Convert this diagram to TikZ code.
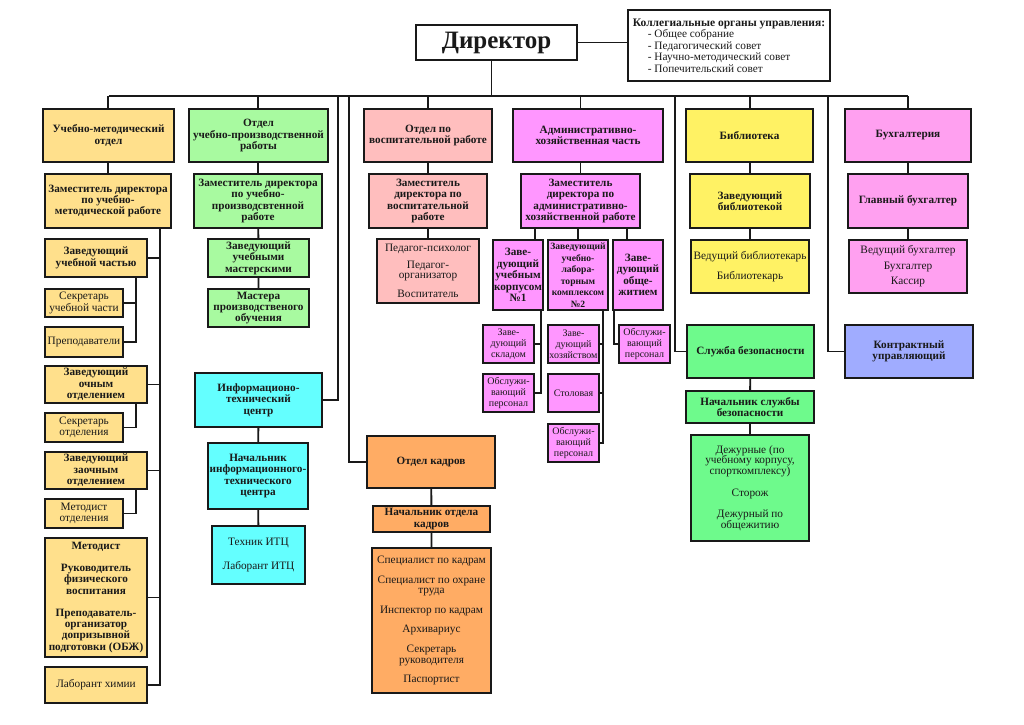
\documentclass[tikz,border=0pt]{standalone}
\usepackage{fontspec}
\setmainfont{Liberation Serif}

\definecolor{umoC}{RGB}{255,224,140}
\definecolor{uprC}{RGB}{168,250,160}
\definecolor{vospC}{RGB}{255,190,190}
\definecolor{ahchC}{RGB}{255,150,255}
\definecolor{bibC}{RGB}{255,242,100}
\definecolor{bukhC}{RGB}{255,160,240}
\definecolor{itcC}{RGB}{100,255,255}
\definecolor{kadrC}{RGB}{255,172,100}
\definecolor{sbC}{RGB}{110,250,140}
\definecolor{kuC}{RGB}{160,172,255}

\tikzset{
	box/.style={draw=black!90, line width=1.9pt, inner sep=0pt, align=center, text=black!90,
		font=\bfseries\fontsize{11.2}{11.4}\selectfont},
	plain/.style={font=\fontsize{11.3}{10.6}\selectfont},
	small/.style={font=\fontsize{10}{11}\selectfont},
	link/.style={draw=black!90, line width=1.9pt}
}

% box from corner (x1,y1) to corner (x2,y2)
\newcommand{\orgbox}[7][]{%
	\node[box,#1,minimum width={#4-#2},minimum height={#5-#3}] (#6) at ({(#2+#4)/2},{(#3+#5)/2}) {#7};}

\begin{document}
\begin{tikzpicture}[x=1pt,y=-1pt]
		\useasboundingbox[fill=white] (0,0) rectangle (1024,724);
		% top
		\orgbox[font=\bfseries\fontsize{25}{27}\selectfont]{416}{25}{577}{60}{dir}{Директор}
		\orgbox[align=left, font=\fontsize{11.3}{11.4}\selectfont]{628}{10}{830}{81}{coll}{\textbf{\fontsize{11.5}{11.4}\selectfont Коллегиальные органы управления:}\\
			\hspace*{15pt}- Общее собрание\\
			\hspace*{15pt}- Педагогический совет\\
			\hspace*{15pt}- Научно-методический совет\\
			\hspace*{15pt}- Попечительский совет}
		\coordinate (bus) at (0,96);
		% first row
		\orgbox[fill=umoC]{43}{109}{174}{162}{umo}{Учебно-методический\\отдел}
		\orgbox[fill=uprC]{189}{109}{328}{162}{upr}{Отдел\\учебно-производственной\\работы}
		\orgbox[fill=vospC]{364}{109}{492}{162}{vosp}{Отдел по\\воспитательной работе}
		\orgbox[fill=ahchC]{513}{109}{663}{162}{ahch}{Административно-\\хозяйственная часть}
		\orgbox[fill=bibC]{686}{109}{813}{162}{bib}{Библиотека}
		\orgbox[fill=bukhC]{845}{109}{971}{162}{bukh}{Бухгалтерия}
		% second row
		\orgbox[fill=umoC]{45}{174}{171}{228}{umozam}{Заместитель директора\\по учебно-\\методической работе}
		\orgbox[fill=uprC]{194}{174}{322}{228}{uprzam}{Заместитель директора\\по учебно-\\производсвтенной\\работе}
		\orgbox[fill=vospC]{369}{174}{487}{228}{vzam}{Заместитель\\директора по\\воспитательной\\работе}
		\orgbox[fill=ahchC]{521}{174}{640}{228}{azam}{Заместитель\\директора по\\административно-\\хозяйственной работе}
		\orgbox[fill=bibC]{690}{174}{810}{228}{zavbib}{Заведующий\\библиотекой}
		\orgbox[fill=bukhC]{848}{174}{968}{228}{glav}{Главный бухгалтер}
		% учебно-методический отдел
		\orgbox[fill=umoC]{45}{239}{147}{277}{zavuch}{Заведующий\\учебной частью}
		\orgbox[fill=umoC,plain]{45}{289}{123}{317}{sekr1}{Секретарь\\[1pt]учебной части}
		\orgbox[fill=umoC,plain]{45}{327}{123}{357}{prep}{Преподаватели}
		\orgbox[fill=umoC]{45}{366}{147}{403}{zavoch}{Заведующий\\очным\\отделением}
		\orgbox[fill=umoC,plain]{45}{413}{123}{442}{sekr2}{Секретарь\\[1pt]отделения}
		\orgbox[fill=umoC]{45}{452}{147}{489}{zavzaoch}{Заведующий\\заочным\\отделением}
		\orgbox[fill=umoC,plain]{45}{499}{123}{528}{metotd}{Методист\\[1pt]отделения}
		\orgbox[fill=umoC]{45}{538}{147}{657}{metod}{Методист\\[10.5pt]Руководитель\\физического\\воспитания\\[10.5pt]Преподаватель-\\организатор\\допризывной\\подготовки (ОБЖ)}
		\orgbox[fill=umoC,plain]{45}{667}{147}{703}{labkh}{Лаборант химии}
		% отдел учебно-производственной работы
		\orgbox[fill=uprC]{208}{239}{309}{277}{zavmast}{Заведующий\\учебными\\мастерскими}
		\orgbox[fill=uprC]{208}{289}{309}{327}{mastera}{Мастера\\производственого\\обучения}
		\orgbox[fill=itcC]{195}{373}{322}{427}{itc}{Информационо-\\технический\\центр}
		\orgbox[fill=itcC]{208}{443}{308}{509}{nachitc}{Начальник\\информационного-\\технического\\центра}
		\orgbox[fill=itcC,plain]{212}{526}{305}{584}{tekh}{Техник ИТЦ\\[13pt]Лаборант ИТЦ}
		% отдел по воспитательной работе, кадры
		\orgbox[fill=vospC,plain]{377}{239}{479}{303}{ped}{Педагог-психолог\\[6pt]Педагог-\\организатор\\[8pt]Воспитатель}
		\orgbox[fill=kadrC]{367}{436}{495}{488}{kadry}{Отдел кадров}
		\orgbox[fill=kadrC]{373}{506}{490}{532}{nachk}{Начальник отдела\\кадров}
		\orgbox[fill=kadrC,plain]{372}{548}{491}{693}{spec}{Специалист по кадрам\\[9pt]Специалист по охране\\труда\\[9pt]Инспектор по кадрам\\[9pt]Архивариус\\[9pt]Секретарь\\руководителя\\[9pt]Паспортист}
		% административно-хозяйственная часть
		\orgbox[fill=ahchC]{493}{240}{543}{310}{korp}{Заве-\\дующий\\учебным\\корпусом\\№1}
		\orgbox[fill=ahchC,font=\bfseries\fontsize{9.6}{11.5}\selectfont]{548}{240}{608}{310}{komp}{Заведующий\\учебно-\\лабора-\\торным\\комплексом\\№2}
		\orgbox[fill=ahchC]{613}{240}{663}{310}{obsh}{Заве-\\дующий\\обще-\\житием}
		\orgbox[fill=ahchC,small]{483}{325}{534}{363}{sklad}{Заве-\\дующий\\складом}
		\orgbox[fill=ahchC,small]{483}{374}{534}{412}{obsl1}{Обслужи-\\вающий\\персонал}
		\orgbox[fill=ahchC,small]{548}{325}{599}{363}{hoz}{Заве-\\дующий\\хозяйством}
		\orgbox[fill=ahchC,small]{548}{374}{599}{412}{stol}{Столовая}
		\orgbox[fill=ahchC,small]{548}{424}{599}{462}{obsl2}{Обслужи-\\вающий\\персонал}
		\orgbox[fill=ahchC,small]{619}{325}{670}{363}{obsl3}{Обслужи-\\вающий\\персонал}
		% библиотека, безопасность
		\orgbox[fill=bibC,plain]{691}{240}{809}{293}{vedbib}{Ведущий библиотекарь\\[9pt]Библиотекарь}
		\orgbox[fill=sbC]{687}{325}{814}{378}{sluzh}{Служба безопасности}
		\orgbox[fill=sbC]{686}{391}{814}{423}{nachsl}{Начальник службы\\безопасности}
		\orgbox[fill=sbC,plain]{691}{435}{809}{541}{dezh}{Дежурные (по\\учебному корпусу,\\спорткомплексу)\\[11pt]Сторож\\[11pt]Дежурный по\\общежитию}
		% бухгалтерия
		\orgbox[fill=bukhC,plain]{849}{240}{967}{293}{vedbukh}{Ведущий бухгалтер\\[5pt]Бухгалтер\\[5pt]Кассир}
		\orgbox[fill=kuC]{845}{325}{973}{378}{kontr}{Контрактный\\управляющий}

		% connectors
		\draw[link] (dir.east) -- (dir.east -| coll.west);
		\draw[link] ([xshift=-5pt]dir.south) -- ([xshift=-5pt]dir.south |- bus);
		\draw[link] (umo.north |- bus) -- (glav.north |- bus);
		\foreach \c/\n in {umo/umozam, upr/uprzam, vosp/vzam, ahch/azam, bib/zavbib, bukh/glav}
			\draw[link] (\n |- bus) -- (\n |- \c.north) (\n |- \c.south) -- (\n.north);
		\coordinate (itcup) at (338,96);
		\coordinate (kadrup) at (349,96);
		\coordinate (sbup) at (675,96);
		\coordinate (kuup) at (828,96);
		\draw[link] (itc.east) -| (itcup);
		\draw[link] (kadry.west) -| (kadrup);
		\draw[link] (sluzh.west) -| (sbup);
		\draw[link] (kontr.west) -| (kuup);
		% учебно-методический отдел
		\coordinate (umox) at (160,0);
		\coordinate (umoy) at (136,0);
		\draw[link] (umozam.south -| umox) |- (labkh.east);
		\foreach \n in {zavuch, zavoch, zavzaoch, metod}
			\draw[link] (\n.east) -- (\n.east -| umox);
		\draw[link] (zavuch.south -| umoy) |- (prep.east);
		\draw[link] (sekr1.east) -- (sekr1.east -| umoy);
		\draw[link] (zavoch.south -| umoy) |- (sekr2.east);
		\draw[link] (zavzaoch.south -| umoy) |- (metotd.east);
		% вертикальные цепочки
		\draw[link] (uprzam) -- (zavmast) -- (mastera);
		\draw[link] (itc) -- (nachitc) -- (tekh);
		\draw[link] (vzam) -- (ped);
		\draw[link] (kadry) -- (nachk) -- (spec);
		\draw[link] (zavbib) -- (vedbib);
		\draw[link] (sluzh) -- (nachsl) -- (dezh);
		\draw[link] (glav) -- (vedbukh);
		% административно-хозяйственная часть
		\coordinate (ax1) at (535,0);
		\coordinate (ax3) at (627,0);
		\draw[link] (korp.north -| ax1) -- (azam.south -| ax1);
		\draw[link] (komp.north) -- (azam.south -| komp.north);
		\draw[link] (obsh.north -| ax3) -- (azam.south -| ax3);
		\coordinate (k1x) at (541,0);
		\coordinate (k2x) at (603,0);
		\coordinate (k3x) at (614,0);
		\draw[link] (korp.south -| k1x) |- (obsl1.east);
		\draw[link] (sklad.east) -- (sklad.east -| k1x);
		\draw[link] (komp.south -| k2x) |- (obsl2.east);
		\draw[link] (hoz.east) -- (hoz.east -| k2x);
		\draw[link] (stol.east) -- (stol.east -| k2x);
		\draw[link] (obsh.south -| k3x) |- (obsl3.west);
	\end{tikzpicture}
\end{document}
